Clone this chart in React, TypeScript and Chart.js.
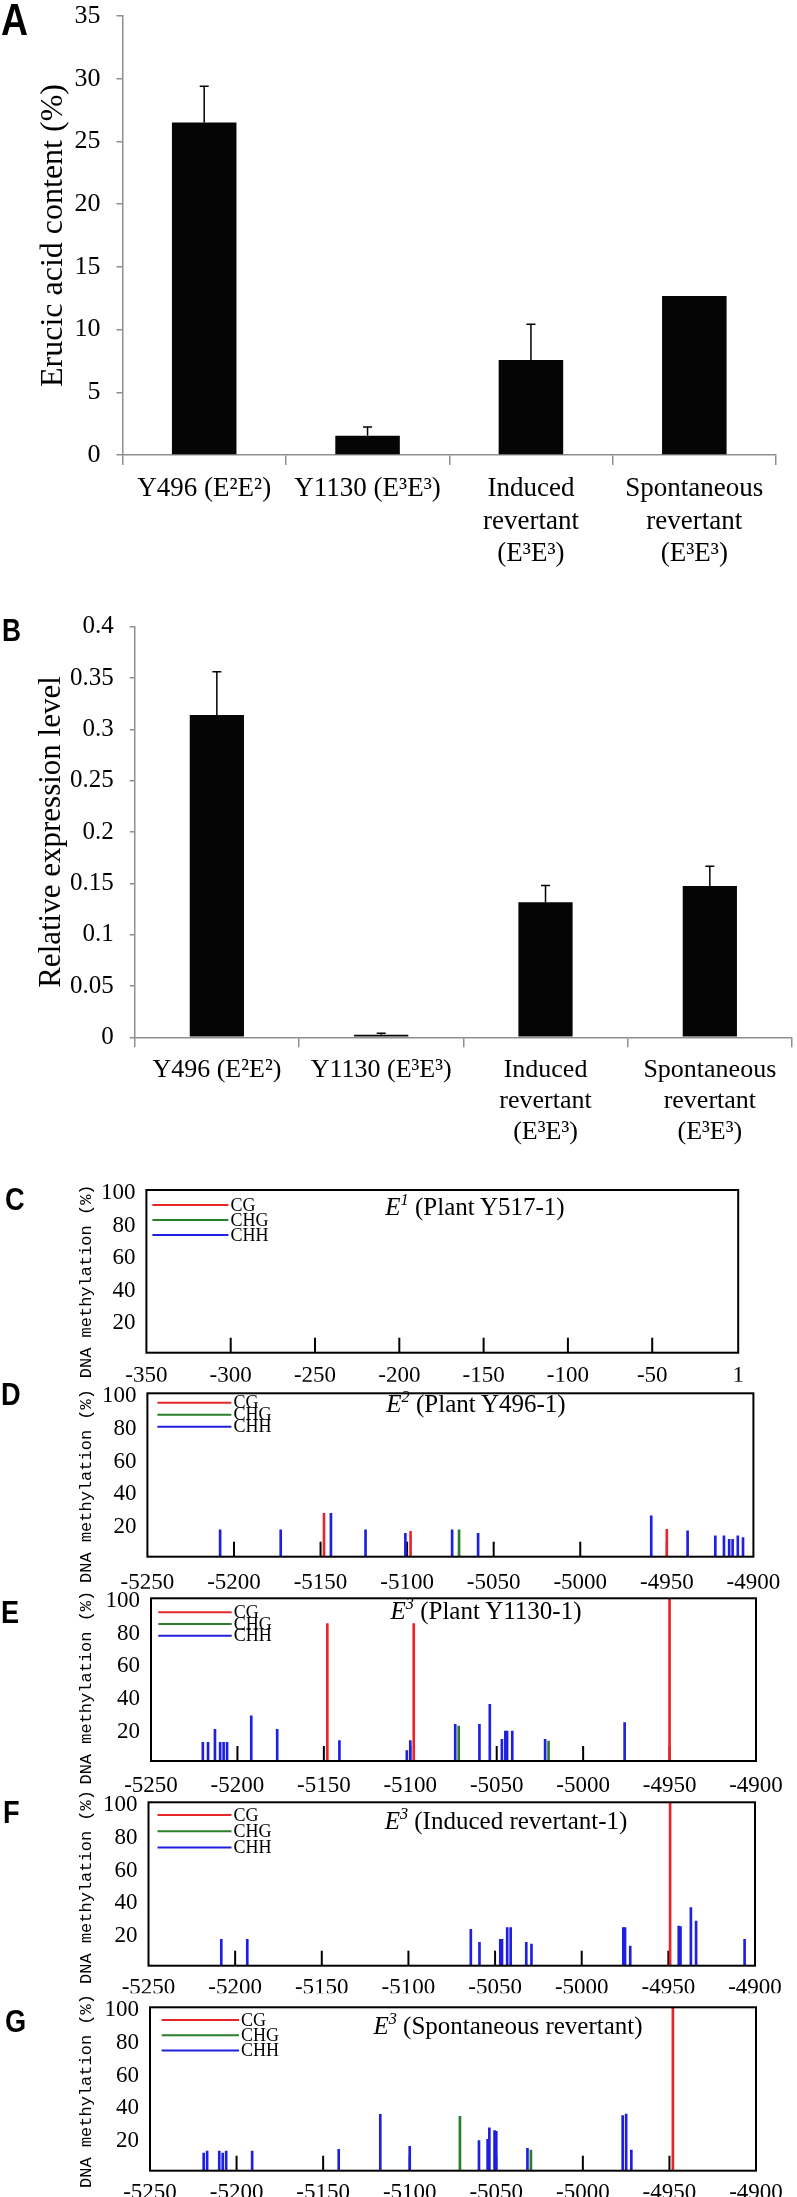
import React, { useEffect, useRef } from 'react';
import { Chart, registerables } from 'chart.js';

Chart.register(...registerables);

const SERIF = 'Liberation Serif';
const AXIS_GRAY = '#8f8f8f';
const RED = '#e8262a';
const GREEN = '#2a7f2a';
const BLUE = '#1f1fe0';

// ---------- Panel A / B ----------
const GENOTYPE_LABELS: string[][] = [
  ['Y496 (E²E²)'],
  ['Y1130 (E³E³)'],
  ['Induced', 'revertant', '(E³E³)'],
  ['Spontaneous', 'revertant', '(E³E³)'],
];
const ERUCIC_ACID = [26.5, 1.54, 7.58, 12.68];
const ERUCIC_ACID_SD = [2.9, 0.7, 2.85, 0];
const ERUCIC_TICKS = [0, 5, 10, 15, 20, 25, 30, 35];

const EXPRESSION = [0.314, 0.0025, 0.1315, 0.1474];
const EXPRESSION_SD = [0.042, 0.0015, 0.0165, 0.0192];
const EXPRESSION_TICKS = [0, 0.05, 0.1, 0.15, 0.2, 0.25, 0.3, 0.35, 0.4];

// ---------- Panels C-G (position, % methylation) ----------
const C_X_TICKS = [-350, -300, -250, -200, -150, -100, -50, 1];
const C_X_MARKS = [-300, -250, -200, -150, -100, -50];
const PROMOTER_X_TICKS = [-5250, -5200, -5150, -5100, -5050, -5000, -4950, -4900];
const PROMOTER_X_MARKS = [-5200, -5150, -5100, -5050, -5000, -4950];
const METHYL_Y_TICKS = [20, 40, 60, 80, 100];
const METHYL_Y_TITLE = 'DNA methylation (%)';

const C_CG: number[][] = [];
const C_CHG: number[][] = [];
const C_CHH: number[][] = [];

const D_CG = [[-5148, 26.6], [-5098, 15.6], [-4950, 16.8]];
const D_CHG = [[-5070, 16.4]];
const D_CHH = [
  [-5208, 16.4], [-5173, 16.4], [-5144, 26.6], [-5124, 16.4], [-5101, 14.3],
  [-5074, 16.4], [-5059, 14.3], [-4959, 25], [-4938, 15.8], [-4922, 12.7],
  [-4917, 12.7], [-4914, 10.7], [-4912, 10.7], [-4909, 12.7], [-4906, 11.7],
];

const E_CG = [[-5148, 84.4], [-5098, 84.4], [-4950, 100]];
const E_CHG = [[-5072, 21.5], [-5020, 12.3]];
const E_CHH = [
  [-5220, 11.5], [-5217, 11.5], [-5213, 19.5], [-5210, 11.5], [-5208, 11.5],
  [-5206, 11.5], [-5192, 27.7], [-5177, 19.5], [-5141, 12.5], [-5102, 6.4],
  [-5100, 12.5], [-5074, 22.5], [-5060, 22.5], [-5054, 34.8], [-5047, 13.3],
  [-5045, 18.4], [-5044, 18.4], [-5041, 18.4], [-5022, 13.3], [-4976, 23.6],
];

const F_CG = [[-4949, 100]];
const F_CHG: number[][] = [];
const F_CHH = [
  [-5208, 16.2], [-5193, 16.2], [-5064, 22.3], [-5059, 14.3], [-5047, 16.1],
  [-5046, 16.1], [-5043, 23.3], [-5041, 23.3], [-5032, 14.3], [-5029, 13.3],
  [-4976, 23.3], [-4975, 23.3], [-4972, 12], [-4944, 24.3], [-4943, 23.9],
  [-4937, 35.5], [-4934, 27.3], [-4906, 16.1],
];

const G_CG = [[-4948, 100]];
const G_CHG = [[-5071, 33.3], [-5030, 12.6]];
const G_CHH = [
  [-5219, 10.8], [-5217, 12], [-5210, 12], [-5208, 10.8], [-5206, 12],
  [-5191, 12], [-5141, 13.1], [-5117, 34.5], [-5100, 14.9], [-5060, 18.5],
  [-5055, 19.2], [-5054, 26.2], [-5051, 24.5], [-5050, 24.1], [-5032, 13.7],
  [-4977, 33.7], [-4975, 34.7], [-4972, 12.6],
];

// ---------- plugins ----------
function makeErrorBars(errors: number[], cap: number) {
  return {
    id: 'errorBars',
    afterDatasetsDraw(chart: any) {
      const meta = chart.getDatasetMeta(0);
      const ys = chart.scales.y;
      const vals = chart.data.datasets[0].data as number[];
      const ctx = chart.ctx;
      ctx.save();
      ctx.strokeStyle = '#000';
      ctx.lineWidth = 1.5;
      meta.data.forEach((bar: any, i: number) => {
        const e = errors[i];
        if (!e) return;
        const yTop = ys.getPixelForValue(vals[i] + e);
        const yBase = ys.getPixelForValue(vals[i]);
        ctx.beginPath();
        ctx.moveTo(bar.x, yBase);
        ctx.lineTo(bar.x, yTop);
        ctx.moveTo(bar.x - cap, yTop);
        ctx.lineTo(bar.x + cap, yTop);
        ctx.stroke();
      });
      ctx.restore();
    },
  };
}

function makeMethylDecor(
  marks: number[],
  legend: { left: number; top: number; gap: number; len: number },
  titleShift: number,
) {
  return {
    id: 'methylDecor',
    beforeDatasetsDraw(chart: any) {
      const { ctx, chartArea, scales } = chart;
      ctx.save();
      ctx.strokeStyle = '#000';
      ctx.lineWidth = 2;
      marks.forEach((v) => {
        const x = scales.x.getPixelForValue(v);
        ctx.beginPath();
        ctx.moveTo(x, chartArea.bottom);
        ctx.lineTo(x, chartArea.bottom - 15);
        ctx.stroke();
      });
      ctx.restore();
    },
    afterDatasetsDraw(chart: any) {
      const { ctx, chartArea } = chart;
      ctx.save();
      chart.data.datasets.forEach((ds: any, i: number) => {
        const y = chartArea.top + legend.top + i * legend.gap;
        const x0 = chartArea.left + legend.left;
        ctx.strokeStyle = ds.borderColor;
        ctx.lineWidth = 2;
        ctx.beginPath();
        ctx.moveTo(x0, y);
        ctx.lineTo(x0 + legend.len, y);
        ctx.stroke();
        ctx.fillStyle = '#000';
        ctx.font = `18px "${SERIF}"`;
        ctx.textBaseline = 'middle';
        ctx.textAlign = 'left';
        ctx.fillText(ds.label, x0 + legend.len + 2, y + 1);
      });
      ctx.strokeStyle = '#000';
      ctx.lineWidth = 2;
      ctx.strokeRect(chartArea.left, chartArea.top, chartArea.right - chartArea.left, chartArea.bottom - chartArea.top);
      // rotated y-axis title
      const cy = (chartArea.top + chartArea.bottom) / 2 + titleShift;
      ctx.translate(86, cy);
      ctx.rotate(-Math.PI / 2);
      ctx.fillStyle = '#000';
      ctx.font = '17px "Liberation Mono"';
      ctx.textAlign = 'center';
      ctx.textBaseline = 'middle';
      ctx.fillText(METHYL_Y_TITLE, 0, 0);
      ctx.restore();
    },
  };
}

// ---------- configs ----------
interface BarPanel {
  values: number[];
  errors: number[];
  yTicks: number[];
  max: number;
  title: string;
  titleSize: number;
  titlePad: number;
  yTickSize: number;
  xTickSize: number;
  axisLeft: number;
  padTop: number;
  padRight: number;
  padBottom: number;
  xAxisH: number;
  xPad: number;
  yTickLen: number;
  barPct: number;
}

function barConfig(p: BarPanel): any {
  return {
    type: 'bar',
    data: {
      labels: GENOTYPE_LABELS,
      datasets: [
        {
          data: p.values,
          backgroundColor: '#050505',
          borderWidth: 0,
          barPercentage: p.barPct,
          categoryPercentage: 1,
        },
      ],
    },
    options: {
      animation: false,
      responsive: false,
      devicePixelRatio: 1,
      layout: { padding: { top: p.padTop, right: p.padRight, bottom: p.padBottom, left: 0 } },
      plugins: { legend: { display: false }, tooltip: { enabled: false } },
      scales: {
        x: {
          grid: { display: true, drawOnChartArea: false, drawTicks: true, tickLength: 10, color: AXIS_GRAY, lineWidth: 1.5, offset: true },
          border: { color: AXIS_GRAY, width: 1.5 },
          ticks: { color: '#000', font: { family: SERIF, size: p.xTickSize }, padding: p.xPad, maxRotation: 0, minRotation: 0, autoSkip: false },
          afterFit: (s: any) => {
            s.height = p.xAxisH;
            s.paddingLeft = 0;
            s.paddingRight = 0;
          },
        },
        y: {
          min: 0,
          max: p.max,
          afterBuildTicks: (s: any) => {
            s.ticks = p.yTicks.map((v) => ({ value: v }));
          },
          grid: { display: true, drawOnChartArea: false, drawTicks: true, tickLength: p.yTickLen, color: AXIS_GRAY, lineWidth: 1.5 },
          border: { color: AXIS_GRAY, width: 1.5 },
          ticks: {
            color: '#000',
            font: { family: SERIF, size: p.yTickSize },
            padding: 16,
            callback: (v: any) => String(Number(Number(v).toFixed(2))),
          },
          title: { display: true, text: p.title, color: '#000', font: { family: SERIF, size: p.titleSize }, padding: { top: p.titlePad, bottom: 0 } },
          afterFit: (s: any) => {
            s.width = p.axisLeft;
            s.paddingTop = 0;
            s.paddingBottom = 0;
          },
        },
      },
    },
    plugins: [makeErrorBars(p.errors, 4.5)],
  };
}

interface MethylPanel {
  cg: number[][];
  chg: number[][];
  chh: number[][];
  xMin: number;
  xMax: number;
  xTicks: number[];
  xMarks: number[];
  left: number;
  right: number;
  padTop: number;
  padBottom: number;
  xPad: number;
  titleShift: number;
  legend: { left: number; top: number; gap: number; len: number };
}

const toPts = (arr: number[][]) => arr.map(([x, y]) => ({ x, y }));

function methylConfig(p: MethylPanel): any {
  const ds = (label: string, color: string, arr: number[][]) => ({
    label,
    data: toPts(arr),
    backgroundColor: color,
    borderColor: color,
    borderWidth: 0,
    barThickness: 2,
    grouped: false,
  });
  return {
    type: 'bar',
    data: {
      datasets: [ds('CG', RED, p.cg), ds('CHG', GREEN, p.chg), ds('CHH', BLUE, p.chh)],
    },
    options: {
      animation: false,
      responsive: false,
      devicePixelRatio: 1,
      layout: { padding: { top: p.padTop, right: 797 - p.right, bottom: p.padBottom, left: 0 } },
      plugins: { legend: { display: false }, tooltip: { enabled: false } },
      scales: {
        x: {
          type: 'linear',
          min: p.xMin,
          max: p.xMax,
          offset: false,
          grid: { display: false },
          border: { display: false },
          afterBuildTicks: (s: any) => {
            s.ticks = p.xTicks.map((v) => ({ value: v }));
          },
          ticks: {
            color: '#000',
            font: { family: SERIF, size: 23 },
            padding: p.xPad,
            maxRotation: 0,
            minRotation: 0,
            autoSkip: false,
            callback: (v: any) => String(v),
          },
          afterFit: (s: any) => {
            s.height = p.xPad + 27.6;
            s.paddingLeft = 0;
            s.paddingRight = 0;
          },
        },
        y: {
          min: 0,
          max: 100,
          grid: { display: false },
          border: { display: false },
          afterBuildTicks: (s: any) => {
            s.ticks = METHYL_Y_TICKS.map((v) => ({ value: v }));
          },
          ticks: {
            color: '#000',
            font: { family: SERIF, size: 23 },
            padding: 3,
            labelOffset: 3,
            callback: (v: any) => String(v),
          },
          title: { display: false },
          afterFit: (s: any) => {
            s.width = p.left;
            s.paddingTop = 0;
            s.paddingBottom = 0;
          },
        },
      },
    },
    plugins: [makeMethylDecor(p.xMarks, p.legend, p.titleShift)],
  };
}

// ---------- panels ----------
const PANELS: { top: number; height: number; config: () => any }[] = [
  {
    top: 0,
    height: 575,
    config: () =>
      barConfig({
        values: ERUCIC_ACID, errors: ERUCIC_ACID_SD, yTicks: ERUCIC_TICKS, max: 35,
        title: 'Erucic acid content (%)', titleSize: 32, titlePad: 34, yTickSize: 26, xTickSize: 27,
        axisLeft: 122.5, padTop: 16, padRight: 21, padBottom: 5, xAxisH: 115, xPad: 8, yTickLen: 6, barPct: 0.395,
      }),
  },
  {
    top: 575,
    height: 585,
    config: () =>
      barConfig({
        values: EXPRESSION, errors: EXPRESSION_SD, yTicks: EXPRESSION_TICKS, max: 0.4,
        title: 'Relative expression level', titleSize: 31, titlePad: 33.4, yTickSize: 25, xTickSize: 26,
        axisLeft: 134.7, padTop: 51.7, padRight: 5, padBottom: 11.7, xAxisH: 111, xPad: 7, yTickLen: 5, barPct: 0.33,
      }),
  },
  {
    top: 1160,
    height: 225,
    config: () =>
      methylConfig({
        cg: C_CG, chg: C_CHG, chh: C_CHH, xMin: -350, xMax: 1, xTicks: C_X_TICKS, xMarks: C_X_MARKS,
        left: 146.4, right: 738.2, padTop: 30, padBottom: 3.2, xPad: 1.5, titleShift: 10,
        legend: { left: 6, top: 15, gap: 15, len: 76 },
      }),
  },
  {
    top: 1373,
    height: 217,
    config: () =>
      methylConfig({
        cg: D_CG, chg: D_CHG, chh: D_CHH, xMin: -5250, xMax: -4900, xTicks: PROMOTER_X_TICKS, xMarks: PROMOTER_X_MARKS,
        left: 147.4, right: 753.4, padTop: 20.3, padBottom: 1.2, xPad: 4.5, titleShift: 11,
        legend: { left: 10, top: 9.4, gap: 12, len: 74 },
      }),
  },
  {
    top: 1578,
    height: 217,
    config: () =>
      methylConfig({
        cg: E_CG, chg: E_CHG, chh: E_CHH, xMin: -5250, xMax: -4900, xTicks: PROMOTER_X_TICKS, xMarks: PROMOTER_X_MARKS,
        left: 151, right: 756, padTop: 20.3, padBottom: 2.9, xPad: 3.5, titleShift: 8,
        legend: { left: 7.3, top: 14, gap: 11.7, len: 73.4 },
      }),
  },
  {
    top: 1783,
    height: 217,
    config: () =>
      methylConfig({
        cg: F_CG, chg: F_CHG, chh: F_CHH, xMin: -5250, xMax: -4900, xTicks: PROMOTER_X_TICKS, xMarks: PROMOTER_X_MARKS,
        left: 148.5, right: 755, padTop: 19.3, padBottom: 6.7, xPad: 0, titleShift: 3,
        legend: { left: 9, top: 12.7, gap: 16.3, len: 74 },
      }),
  },
  {
    top: 1988,
    height: 209,
    config: () =>
      methylConfig({
        cg: G_CG, chg: G_CHG, chh: G_CHH, xMin: -5250, xMax: -4900, xTicks: PROMOTER_X_TICKS, xMarks: PROMOTER_X_MARKS,
        left: 150, right: 756, padTop: 19.3, padBottom: -1.3, xPad: 0, titleShift: 2,
        legend: { left: 11.7, top: 12.7, gap: 15.3, len: 77.3 },
      }),
  },
];

const LETTERS = [
  { t: 'A', left: 1, baseline: 35, size: 44 },
  { t: 'B', left: 2, baseline: 641.7, size: 31 },
  { t: 'C', left: 5, baseline: 1210.5, size: 32 },
  { t: 'D', left: 1, baseline: 1405, size: 32 },
  { t: 'E', left: 1, baseline: 1623.3, size: 32 },
  { t: 'F', left: 3, baseline: 1823.3, size: 32 },
  { t: 'G', left: 5, baseline: 2032.5, size: 32 },
];

const TITLES = [
  { sup: '1', rest: ' (Plant Y517-1)', cx: 475, cy: 1206 },
  { sup: '2', rest: ' (Plant Y496-1)', cx: 476, cy: 1403 },
  { sup: '3', rest: ' (Plant Y1130-1)', cx: 486, cy: 1610 },
  { sup: '3', rest: ' (Induced revertant-1)', cx: 506, cy: 1820 },
  { sup: '3', rest: ' (Spontaneous revertant)', cx: 508, cy: 2025 },
];

function ChartCanvas({ top, height, config }: { top: number; height: number; config: () => any }) {
  const ref = useRef<HTMLCanvasElement>(null);
  useEffect(() => {
    const chart = new Chart(ref.current as HTMLCanvasElement, config());
    return () => chart.destroy();
  }, []);
  return (
    <canvas
      ref={ref}
      width={797}
      height={height}
      style={{ position: 'absolute', left: 0, top, width: 797, height, display: 'block' }}
    />
  );
}

export default function App() {
  return (
    <div style={{ position: 'absolute', left: 0, top: 0, width: 797, height: 2197, background: '#fff', overflow: 'hidden' }}>
      {PANELS.map((p, i) => (
        <ChartCanvas key={i} top={p.top} height={p.height} config={p.config} />
      ))}
      {LETTERS.map((l) => (
        <div
          key={l.t}
          style={{
            position: 'absolute',
            left: l.left,
            top: l.baseline - 0.8465 * l.size,
            fontFamily: '"Liberation Sans", Arial, sans-serif',
            fontWeight: 'bold',
            fontSize: l.size,
            lineHeight: 1,
            color: '#000',
            transform: 'scaleX(0.85)',
            transformOrigin: 'left top',
          }}
        >
          {l.t}
        </div>
      ))}
      {TITLES.map((t, i) => (
        <div
          key={i}
          style={{
            position: 'absolute',
            left: t.cx,
            top: t.cy,
            transform: 'translate(-50%, -50%)',
            fontFamily: `"${SERIF}", serif`,
            fontSize: 25,
            lineHeight: 1,
            whiteSpace: 'nowrap',
            color: '#000',
          }}
        >
          <i>
            E<span style={{ fontSize: '0.65em', position: 'relative', top: '-0.6em' }}>{t.sup}</span>
          </i>
          {t.rest}
        </div>
      ))}
    </div>
  );
}
